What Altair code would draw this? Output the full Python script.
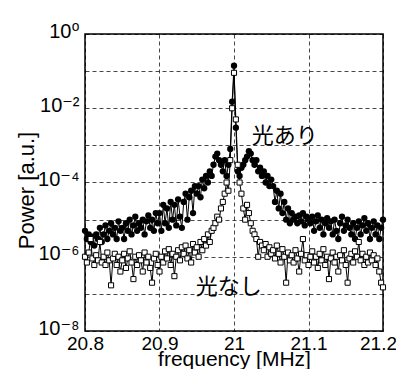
import altair as alt
import numpy as np
import pandas as pd

# frequency grid (MHz): 161 samples, 20.8 .. 21.2
f_start, f_step, n_pts = 20.8, 0.0025, 161
freq = [round(f_start + f_step * i, 4) for i in range(n_pts)]

# 光あり (with light) — filled circles
p_on = [
    5e-6, 3e-6, 4e-6, 2.5e-6, 3.5e-6, 2e-6, 4e-6, 3e-6, 6e-6, 2.5e-6,
    4e-6, 7e-6, 3e-6, 5e-6, 8e-6, 4e-6, 6e-6, 3e-6, 9e-6, 5e-6,
    6e-6, 3e-6, 8e-6, 5e-6, 1e-5, 4e-6, 7e-6, 1.2e-5, 5e-6, 8e-6,
    6e-6, 1e-5, 4e-6, 9e-6, 1.3e-5, 6e-6, 1e-5, 5e-6, 1.5e-5, 8e-6,
    1.5e-5, 5e-6, 2.5e-5, 8e-6, 2e-5, 6e-6, 3e-5, 1e-5, 2.5e-5, 7e-6,
    3.5e-5, 1.2e-5, 6e-6, 3e-5, 5e-5, 1e-5, 4e-5, 6e-5, 1.5e-5, 8e-5,
    5e-5, 8e-5, 4e-5, 1.2e-4, 7e-5, 1.5e-4, 1e-4, 2e-4, 1.5e-4, 3e-4,
    5e-4, 6e-4, 4e-4, 3e-4, 2e-4, 4e-4, 1.5e-4, 3e-4, 8e-4, 1.5e-2,
    1.4e-1,
    3e-3, 2e-4, 1.5e-4, 2.5e-4, 3e-4, 4e-4, 5e-4, 7e-4, 6e-4, 4e-4,
    3e-4, 4e-4, 2e-4, 2.5e-4, 1.5e-4, 2e-4, 1e-4, 1.5e-4, 8e-5, 1.2e-4,
    8e-5, 3e-5, 6e-5, 2e-5, 5e-5, 1.5e-5, 3e-5, 1e-5, 2e-5, 8e-6,
    1.5e-5, 1e-5, 1.2e-5, 8e-6, 1.3e-5, 9e-6, 1.5e-5, 7e-6, 1.2e-5, 1e-5,
    8e-6, 1.2e-5, 5e-6, 9e-6, 1.3e-5, 6e-6, 1e-5, 4e-6, 8e-6, 1.1e-5,
    6e-6, 9e-6, 4e-6, 1e-5, 5e-6, 3e-6, 8e-6, 1.2e-5, 5e-6, 7e-6,
    1e-5, 6e-6, 4e-6, 8e-6, 3e-6, 6e-6, 9e-6, 4e-6, 7e-6, 1.1e-5,
    5e-6, 8e-6, 3e-6, 6e-6, 9e-6, 4e-6, 7e-6, 3e-6, 6e-6, 1e-5,
]

# 光なし (without light) — open squares
p_off = [
    1e-6, 7e-7, 1.3e-6, 3e-6, 9e-7, 6e-7, 1.1e-6, 8e-7, 2.5e-6, 7e-7,
    1e-6, 6e-7, 1.3e-6, 8e-7, 1.7e-7, 9e-7, 1.2e-6, 6e-7, 1e-6, 4e-7,
    8e-7, 1.2e-6, 5e-7, 9e-7, 1.4e-6, 7e-7, 2.5e-7, 1e-6, 6e-7, 1.1e-6,
    8e-7, 4e-7, 1.3e-6, 7e-7, 1e-6, 5e-7, 2e-7, 9e-7, 1.2e-6, 6e-7,
    4e-7, 1e-6, 7e-7, 1.4e-6, 9e-7, 1.6e-6, 6e-7, 1.2e-6, 3e-7, 1e-6,
    1.5e-6, 8e-7, 1.8e-6, 1.2e-6, 2e-6, 9e-7, 1.5e-6, 7e-7, 2.2e-6, 1.3e-6,
    1.8e-6, 1e-6, 2.5e-6, 1.5e-6, 3e-6, 2e-6, 4e-6, 2.5e-6, 5e-6, 6e-6,
    8e-6, 1.2e-5, 1e-5, 2e-5, 3e-5, 5e-5, 1e-4, 6e-5, 4e-4, 1e-2,
    9e-2,
    5e-3, 3e-4, 1e-4, 5e-5, 2e-5, 1e-5, 2.5e-5, 1.5e-5, 8e-6, 5e-6,
    4e-6, 3e-6, 1e-6, 2.5e-6, 2e-6, 1.5e-6, 2.2e-6, 1e-6, 1.8e-6, 1.2e-6,
    1.5e-6, 9e-7, 2e-6, 1.2e-6, 7e-7, 1.6e-6, 1e-6, 2e-7, 1.3e-6, 8e-7,
    1.1e-6, 7e-7, 1.5e-6, 9e-7, 4e-7, 1.2e-6, 3e-6, 8e-7, 1.1e-6, 6e-7,
    1e-6, 1.4e-6, 7e-7, 1e-6, 5e-7, 1.2e-6, 8e-7, 1.6e-6, 6e-7, 1e-6,
    2.5e-7, 9e-7, 1.3e-6, 7e-7, 1e-6, 4e-7, 1.1e-6, 8e-7, 1.5e-6, 6e-7,
    2e-7, 9e-7, 1.2e-6, 7e-7, 1.4e-6, 1e-6, 2.5e-6, 8e-7, 1.2e-6, 6e-7,
    1e-6, 7e-7, 1.3e-6, 8e-7, 1.1e-6, 6e-7, 9e-7, 4e-7, 2e-7, 1.5e-7,
]

label_text = ["光あり", "光なし"]
label_freq = [21.068, 20.993]
label_power = [1.8e-3, 1.5e-7]

x_ticks = [20.8, 20.9, 21.0, 21.1, 21.2]
y_ticks = [1e-8, 1e-7, 1e-6, 1e-5, 1e-4, 1e-3, 1e-2, 1e-1, 1.0]

df_on = pd.DataFrame({"f": freq, "p": p_on})
df_off = pd.DataFrame({"f": freq, "p": p_off})
df_lab = pd.DataFrame({"f": label_freq, "p": label_power, "t": label_text})

xs = alt.Scale(domain=[20.8, 21.2], nice=False, zero=False)
ys = alt.Scale(type="log", domain=[1e-8, 1], nice=False)

lab_expr = ("round(log(datum.value)/LN10) == 0 ? '10⁰' : "
            "round(log(datum.value)/LN10) == -2 ? '10⁻²' : "
            "round(log(datum.value)/LN10) == -4 ? '10⁻⁴' : "
            "round(log(datum.value)/LN10) == -6 ? '10⁻⁶' : "
            "round(log(datum.value)/LN10) == -8 ? '10⁻⁸' : ''")

X = alt.X("f:Q", scale=xs, title="frequency [MHz]",
          axis=alt.Axis(values=x_ticks, format="~g", labelFontSize=19,
                        labelPadding=3, titleFontSize=21, titleY=34,
                        titleBaseline="alphabetic", ticks=False, domain=False,
                        labelFlush=False,
                        labelOffset=alt.condition("datum.value > 21.15",
                                                  alt.value(-5), alt.value(0))))
Y = alt.Y("p:Q", scale=ys, title="Power [a.u.]",
          axis=alt.Axis(values=y_ticks, labelExpr=lab_expr, labelFontSize=20,
                        labelPadding=6, titleFontSize=22, titleX=-52, titleY=156,
                        titleBaseline="alphabetic", ticks=False, domain=False,
                        labelFlush=False, labelOffset=-3))

line_on = alt.Chart(df_on).mark_line(color="black", strokeWidth=1).encode(x=X, y=Y)
pts_on = alt.Chart(df_on).mark_point(shape="circle", filled=True, color="black",
                                      size=40, opacity=1).encode(x=X, y=Y)
line_off = alt.Chart(df_off).mark_line(color="black", strokeWidth=1).encode(x=X, y=Y)
pts_off = alt.Chart(df_off).mark_point(shape="square", filled=True, fill="white",
                                        stroke="black", strokeWidth=1, size=26,
                                        opacity=1).encode(x=X, y=Y)
texts = alt.Chart(df_lab).mark_text(font="Noto Sans CJK JP", fontSize=22,
                                     align="center", baseline="middle",
                                     color="black").encode(x=X, y=Y, text="t:N")

chart = alt.layer(line_on, pts_on, line_off, pts_off, texts).properties(
    width=298, height=297,
    autosize=alt.AutoSizeParams(type="none"),
    padding={"left": 77, "top": 26, "right": 13, "bottom": 38},
    background="white",
).configure_view(
    stroke="black", strokeWidth=1.5
).configure_axis(
    gridColor="black", gridDash=[4, 3], gridWidth=0.8, gridOpacity=0.9,
    labelColor="black", titleColor="black",
    labelFont="Liberation Sans, DejaVu Sans", titleFont="Liberation Sans, DejaVu Sans",
    titleFontWeight="normal",
)

chart.save("out.html", embed_options={"renderer": "svg", "actions": False})
